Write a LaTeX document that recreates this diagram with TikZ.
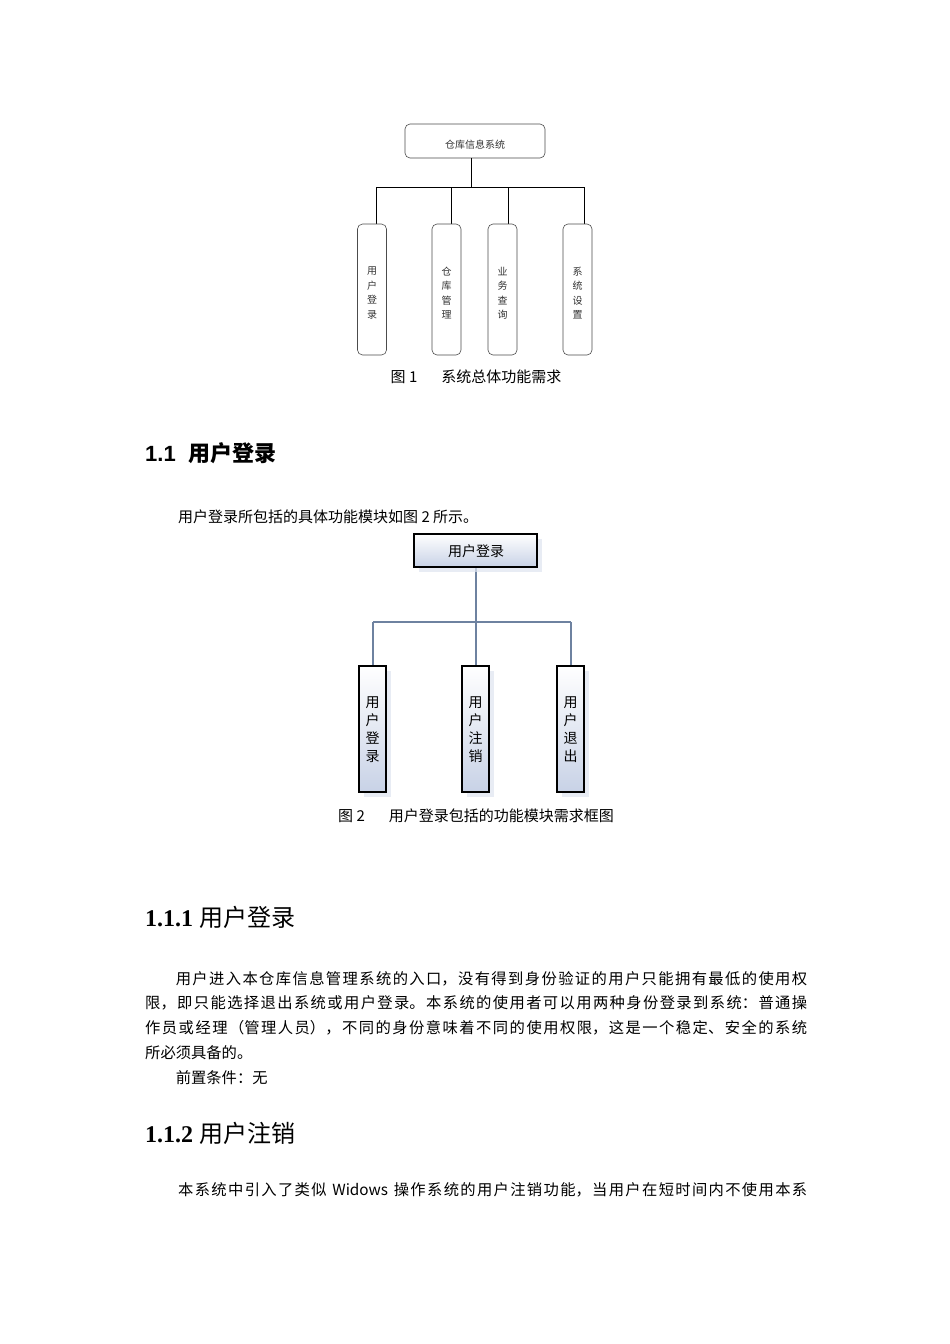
\documentclass[tikz,border=0pt]{standalone}
\usepackage{fontspec}
\setmainfont{Liberation Serif}
\setsansfont{Liberation Sans}
\newfontfamily\cjk{Noto Sans CJK SC}
\XeTeXlinebreaklocale "zh"
\XeTeXlinebreakskip=0pt plus 1pt
\usetikzlibrary{shadows}
\definecolor{lnb}{RGB}{110,130,160}
\definecolor{bfill}{RGB}{200,210,230}
\begin{document}
\begin{tikzpicture}[x=1pt,y=-1pt,
  gbox/.style={draw=black!70,rounded corners=5pt,fill=white,line width=0.6pt},
  bbox/.style={draw=black,line width=1.8pt,top color=white,bottom color=bfill,drop shadow={shadow xshift=5pt,shadow yshift=-5pt,fill=bfill!60,opacity=0.7}},
  gl/.style={draw=black,line width=0.8pt},
  bl/.style={draw=lnb,line width=1.2pt},
  vt/.style={font=\cjk\fontsize{10}{14.5}\selectfont,align=center,text=black!80},
  vt2/.style={font=\cjk\fontsize{14}{18}\selectfont,align=center},
  para/.style={anchor=north west,text width=662pt,align=justify,font=\cjk\fontsize{15.3}{24.7}\selectfont,inner sep=0pt}]
\useasboundingbox (0,0) rectangle (950,1344);
% diagram 1
\draw[gbox] (405,124) rectangle (545,158);
\node[vt] (t1) at (475,145) {仓库信息系统};
\coordinate (j1) at (471,187);
\draw[gl] (471,158) -- (j1);
\draw[gl] (376,187) -- (584,187);
\foreach \x/\d/\c/\t in {372/376/a/用\\户\\登\\录, 446.5/451/b/仓\\库\\管\\理, 502.5/508/c/业\\务\\查\\询, 577.5/584/d/系\\统\\设\\置}{
  \draw[gl] (\d,187) -- (\d,224);
  \draw[gbox] (\x-14.5,224) rectangle (\x+14.5,355);
  \node[vt] (n\c) at (\x,293) {\t};
}
\node[font=\cjk\fontsize{15}{18}\selectfont] (c1) at (476,377) {图 1\hspace{1.6em}系统总体功能需求};
% heading
\node[anchor=west,font=\fontsize{22}{26}\selectfont\bfseries\sffamily,inner sep=0pt] (h1) at (145,453) {1.1\ \ {\cjk\bfseries 用户登录}};
\node[anchor=west,font=\cjk\fontsize{15}{20}\selectfont,inner sep=0pt] (p0) at (178,517) {用户登录所包括的具体功能模块如图 2 所示。};
% diagram 2
\draw[bl] (476,567) -- (476,622);
\draw[bl] (373,622) -- (571,622);
\foreach \x in {373,476,571}{\draw[bl] (\x,622) -- (\x,666);}
\draw[bbox] (414,534) rectangle (537,567);
\node[vt2] (t2) at (476,551) {用户登录};
\foreach \x/\c/\t in {372.5/a/用\\户\\登\\录, 475.5/b/用\\户\\注\\销, 570.5/c/用\\户\\退\\出}{
  \draw[bbox] (\x-13.5,666) rectangle (\x+13.5,792);
  \node[vt2] (m\c) at (\x,730) {\t};
}
\node[font=\cjk\fontsize{15}{18}\selectfont] (c2) at (476,816) {图 2\hspace{1.6em}用户登录包括的功能模块需求框图};
% text
\node[anchor=west,font=\fontsize{24}{28}\selectfont,inner sep=0pt] (h2) at (145,917) {\textbf{1.1.1} {\cjk 用户登录}};
\node[para] (p1) at (145,971) {\hspace*{2em}用户进入本仓库信息管理系统的入口，没有得到身份验证的用户只能拥有最低的使用权\linebreak 限，即只能选择退出系统或用户登录。本系统的使用者可以用两种身份登录到系统：普通操\linebreak 作员或经理（管理人员），不同的身份意味着不同的使用权限，这是一个稳定、安全的系统\linebreak 所必须具备的。\par\hspace*{2em}前置条件：无};
\node[anchor=west,font=\fontsize{24}{28}\selectfont,inner sep=0pt] (h3) at (145,1133) {\textbf{1.1.2} {\cjk 用户注销}};
\node[anchor=west,font=\cjk\fontsize{15.3}{20}\selectfont,inner sep=0pt,text width=629pt,align=justify] (p2) at (178,1199) {本系统中引入了类似 Widows 操作系统的用户注销功能，当用户在短时间内不使用本系\linebreak\mbox{}};
\end{tikzpicture}
\end{document}
